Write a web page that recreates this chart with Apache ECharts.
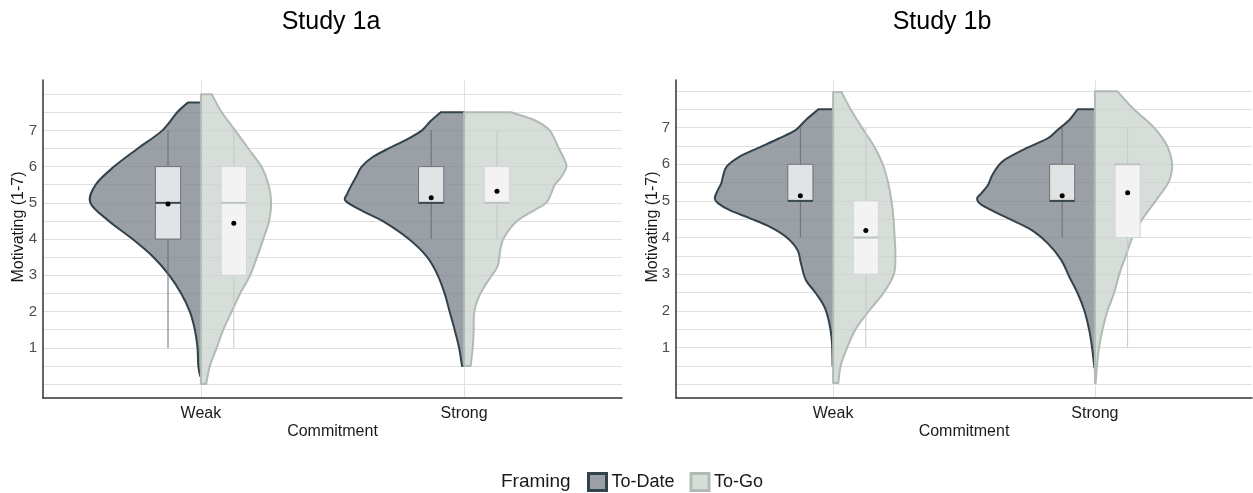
<!DOCTYPE html>
<html>
<head>
<meta charset="utf-8">
<script src="https://cdn.jsdelivr.net/npm/echarts@6/dist/echarts.min.js"></script>
<style>
  html, body { margin: 0; padding: 0; background: #ffffff; }
  #chart { width: 1253px; height: 493px; }
</style>
</head>
<body>
<div id="chart"></div>
<script>
// ---- data ----------------------------------------------------------------
const commitment = ['Weak', 'Strong'];
const framing = ['To-Date', 'To-Go'];
const studyTitles = ['Study 1a', 'Study 1b'];
const ratingTicks = [1, 2, 3, 4, 5, 6, 7];
const gridBreaks = [0, 0.5, 1, 1.5, 2, 2.5, 3, 3.5, 4, 4.5, 5, 5.5, 6, 6.5, 7, 7.5, 8];

// Density outlines, bottom to top: [rating, half-width in category units]
const s1aWeakToDate = [[0.22, 0.003], [0.5, 0.01], [1, 0.013], [1.5, 0.023], [2, 0.042], [2.5, 0.075], [3, 0.12], [3.5, 0.18], [4, 0.26], [4.5, 0.35], [5, 0.42], [5.5, 0.40], [6, 0.33], [6.5, 0.24], [7, 0.146], [7.5, 0.09], [7.77, 0.049]];
const s1aWeakToGo = [[0, 0.02], [0.5, 0.034], [1, 0.06], [1.5, 0.085], [2, 0.117], [2.5, 0.149], [3, 0.187], [3.5, 0.213], [4, 0.237], [4.5, 0.259], [5, 0.267], [5.5, 0.257], [6, 0.23], [6.5, 0.18], [7, 0.13], [7.5, 0.079], [8, 0.041]];
const s1aStrongToDate = [[0.5, 0.008], [1, 0.019], [1.5, 0.036], [2, 0.055], [2.5, 0.074], [3, 0.10], [3.5, 0.14], [4, 0.21], [4.5, 0.31], [4.75, 0.38], [5.05, 0.45], [5.25, 0.444], [5.5, 0.427], [5.75, 0.408], [6, 0.389], [6.25, 0.35], [6.5, 0.287], [6.75, 0.217], [7, 0.16], [7.25, 0.128], [7.5, 0.089]];
const s1aStrongToGo = [[0.5, 0.025], [0.94, 0.032], [1.4, 0.036], [1.95, 0.038], [2.32, 0.051], [2.68, 0.076], [2.96, 0.102], [3.24, 0.127], [3.51, 0.134], [3.79, 0.14], [4.06, 0.153], [4.48, 0.198], [4.8, 0.268], [5, 0.312], [5.26, 0.331], [5.49, 0.344], [5.72, 0.37], [6, 0.389], [6.18, 0.382], [6.55, 0.357], [7, 0.325], [7.28, 0.268], [7.5, 0.178]];
const s1bWeakToDate = [[0.5, 0.002], [1.29, 0.006], [2.02, 0.028], [2.48, 0.066], [2.84, 0.104], [3.3, 0.123], [3.66, 0.136], [4.02, 0.18], [4.3, 0.243], [4.53, 0.319], [4.75, 0.395], [4.94, 0.44], [5.07, 0.452], [5.3, 0.44], [5.48, 0.427], [5.66, 0.421], [5.94, 0.406], [6.21, 0.357], [6.44, 0.288], [6.71, 0.205], [6.94, 0.142], [7.21, 0.104], [7.5, 0.056]];
const s1bWeakToGo = [[0.03, 0.02], [0.5, 0.029], [1, 0.054], [1.5, 0.086], [2, 0.137], [2.5, 0.194], [3, 0.232], [3.5, 0.238], [4, 0.235], [4.5, 0.231], [5, 0.223], [5.5, 0.21], [6, 0.19], [6.5, 0.156], [7, 0.11], [7.5, 0.067], [7.97, 0.032]];
const s1bStrongToDate = [[0.45, 0.002], [1, 0.011], [1.48, 0.022], [2.02, 0.041], [2.48, 0.066], [2.93, 0.098], [3.39, 0.129], [3.84, 0.18], [4.21, 0.243], [4.57, 0.345], [4.89, 0.433], [5.07, 0.45], [5.21, 0.433], [5.44, 0.408], [5.66, 0.395], [5.89, 0.376], [6.12, 0.345], [6.44, 0.262], [6.71, 0.18], [6.94, 0.142], [7.21, 0.098], [7.5, 0.066]];
const s1bStrongToGo = [[0.03, 0.003], [0.5, 0.008], [1, 0.016], [1.48, 0.029], [2, 0.048], [2.48, 0.073], [3, 0.093], [3.5, 0.118], [4, 0.143], [4.5, 0.181], [5, 0.232], [5.44, 0.276], [5.66, 0.289], [6, 0.295], [6.5, 0.276], [7, 0.226], [7.5, 0.149], [7.99, 0.086]];

// Box summaries per commitment level: [lower whisker, Q1, median, Q3, upper whisker]
const s1aToDateBox = [[1, 4, 5, 6, 7], [4, 5, 5, 6, 7]];
const s1aToGoBox = [[1, 3, 5, 6, 7], [4, 5, 5, 6, 7]];
const s1bToDateBox = [[4, 5, 5, 6, 7], [4, 5, 5, 6, 7]];
const s1bToGoBox = [[1, 3, 4, 5, 7], [1, 4, 6, 6, 7]];

// Group means per commitment level
const s1aToDateMean = [4.97, 5.14];
const s1aToGoMean = [4.44, 5.32];
const s1bToDateMean = [5.14, 5.14];
const s1bToGoMean = [4.19, 5.22];

// ---- layout & style --------------------------------------------------------
const FONT = '"Liberation Sans", Arial, Helvetica, sans-serif';
const GRID_COLOR = '#e0e0e0';
const BOX_OFFSET = 0.125;
const BOX_HALF = 0.048;

const panels = [
  { grid: { left: 43, right: 631, top: 80, bottom: 95 }, yMin: -0.386, yMax: 8.39,
    violins: [[s1aWeakToDate, s1aStrongToDate], [s1aWeakToGo, s1aStrongToGo]],
    boxes: [s1aToDateBox, s1aToGoBox], means: [s1aToDateMean, s1aToGoMean],
    titleX: 331, yNameX: 18.5 },
  { grid: { left: 676, right: 1, top: 80, bottom: 95 }, yMin: -0.38, yMax: 8.3,
    violins: [[s1bWeakToDate, s1bStrongToDate], [s1bWeakToGo, s1bStrongToGo]],
    boxes: [s1bToDateBox, s1bToGoBox], means: [s1bToDateMean, s1bToGoMean],
    titleX: 942, yNameX: 653 }
];

const violinStyle = [
  { fill: 'rgba(120,128,136,0.75)', stroke: '#33434b' },
  { fill: 'rgba(202,210,204,0.75)', stroke: '#b1bbb4' }
];
const boxStyle = [
  { fill: '#e2e3e5', border: '#6c7277', median: '#3a4950', whisker: '#687075' },
  { fill: '#f2f3f2', border: '#d0d6d2', median: '#bcc5bf', whisker: '#c3cbc6' }
];

// Cubic Bezier segments through pixel points (Catmull-Rom)
function smoothSegments(pts) {
  let d = '';
  for (let i = 0; i < pts.length - 1; i++) {
    const p0 = pts[i - 1] || pts[i], p1 = pts[i], p2 = pts[i + 1], p3 = pts[i + 2] || pts[i + 1];
    const c1x = p1[0] + (p2[0] - p0[0]) / 6, c1y = p1[1] + (p2[1] - p0[1]) / 6;
    const c2x = p2[0] - (p3[0] - p1[0]) / 6, c2y = p2[1] - (p3[1] - p1[1]) / 6;
    d += ' C' + c1x + ' ' + c1y + ' ' + c2x + ' ' + c2y + ' ' + p2[0] + ' ' + p2[1];
  }
  return d;
}

// Half violin: side -1 draws to the left of the category, +1 to the right
function violinRenderer(profiles, side, closed, st) {
  return function (params, api) {
    const prof = profiles[params.dataIndex];
    const cx = api.value(0);
    const pts = prof.map(function (p) { return api.coord([cx + side * p[1], p[0]]); });
    const b = api.coord([cx, prof[0][0]]);
    const t = api.coord([cx, prof[prof.length - 1][0]]);
    let d = 'M' + b[0] + ' ' + b[1] + ' L' + pts[0][0] + ' ' + pts[0][1] +
      smoothSegments(pts) + ' L' + t[0] + ' ' + t[1];
    if (closed) d += ' Z';
    return {
      type: 'path',
      shape: { pathData: d },
      style: { fill: st.fill, stroke: st.stroke, lineWidth: 2, lineJoin: 'round' }
    };
  };
}

function boxRenderer(offset, st) {
  return function (params, api) {
    const x = api.value(0) + offset;
    const lo = api.value(1), q1 = api.value(2), med = api.value(3), q3 = api.value(4), hi = api.value(5), mean = api.value(6);
    const a = api.coord([x - BOX_HALF, q3]), b = api.coord([x + BOX_HALF, q1]);
    const m1 = api.coord([x - BOX_HALF, med]), m2 = api.coord([x + BOX_HALF, med]);
    const w1 = api.coord([x, lo]), w2 = api.coord([x, q1]), w3 = api.coord([x, q3]), w4 = api.coord([x, hi]);
    const mp = api.coord([x, mean]);
    return {
      type: 'group',
      children: [
        { type: 'line', shape: { x1: w1[0], y1: w1[1], x2: w2[0], y2: w2[1] }, style: { stroke: st.whisker, lineWidth: 1 } },
        { type: 'line', shape: { x1: w3[0], y1: w3[1], x2: w4[0], y2: w4[1] }, style: { stroke: st.whisker, lineWidth: 1 } },
        { type: 'rect', shape: { x: a[0], y: a[1], width: b[0] - a[0], height: b[1] - a[1] }, style: { fill: st.fill, stroke: st.border, lineWidth: 1 } },
        { type: 'line', shape: { x1: m1[0], y1: m1[1], x2: m2[0], y2: m2[1] }, style: { stroke: st.median, lineWidth: 2 } },
        { type: 'circle', shape: { cx: mp[0], cy: mp[1], r: 2.5 }, style: { fill: '#000000' } }
      ]
    };
  };
}

// ---- option ----------------------------------------------------------------
const grids = [], xAxes = [], yAxes = [], series = [], graphics = [];

panels.forEach(function (panel, p) {
  grids.push(panel.grid);
  xAxes.push({
    type: 'value', gridIndex: p, min: 0.4, max: 2.6,
    axisLine: { show: true, onZero: false, lineStyle: { color: '#333333', width: 1.5 } },
    axisTick: { show: false, customValues: [1, 2] },
    axisLabel: {
      customValues: [1, 2], margin: 8, color: '#1a1a1a', fontSize: 16, fontFamily: FONT,
      formatter: function (v) { return commitment[Math.round(v) - 1]; }
    },
    splitLine: { show: true, lineStyle: { color: GRID_COLOR, width: 1 } },
    name: 'Commitment', nameLocation: 'middle', nameGap: 26, nameMoveOverlap: false,
    nameTextStyle: { color: '#1a1a1a', fontSize: 16, fontFamily: FONT }
  });
  yAxes.push({
    type: 'value', gridIndex: p, min: panel.yMin, max: panel.yMax,
    axisLine: { show: true, onZero: false, lineStyle: { color: '#333333', width: 1.5 } },
    axisTick: { show: false, customValues: gridBreaks },
    axisLabel: { customValues: ratingTicks, margin: 6, color: '#4d4d4d', fontSize: 15, fontFamily: FONT },
    splitLine: { show: true, lineStyle: { color: GRID_COLOR, width: 1 } }
  });

  // half violins (To-Date left, To-Go right)
  framing.forEach(function (name, f) {
    const profiles = panel.violins[f];
    series.push({
      type: 'custom', name: name, xAxisIndex: p, yAxisIndex: p, silent: true,
      renderItem: violinRenderer(profiles, f === 0 ? -1 : 1, f === 1, violinStyle[f]),
      encode: { x: 0, y: 1 },
      data: profiles.map(function (prof, i) { return [i + 1, prof[prof.length - 1][0]]; })
    });
  });

  // boxes, whiskers and means
  framing.forEach(function (name, f) {
    const stats = panel.boxes[f], means = panel.means[f];
    series.push({
      type: 'custom', name: name, xAxisIndex: p, yAxisIndex: p, silent: true,
      renderItem: boxRenderer(f === 0 ? -BOX_OFFSET : BOX_OFFSET, boxStyle[f]),
      encode: { x: 0, y: [1, 5] },
      data: stats.map(function (s, i) { return [i + 1].concat(s, [means[i]]); })
    });
  });

  graphics.push({
    type: 'text', x: panel.titleX, y: 22, silent: true,
    style: { text: studyTitles[p], fill: '#000000', font: '25px ' + FONT, align: 'center', verticalAlign: 'middle' }
  });
  graphics.push({
    type: 'text', x: panel.yNameX, y: 227, rotation: Math.PI / 2, silent: true,
    style: { text: 'Motivating (1-7)', fill: '#1a1a1a', font: '16px ' + FONT, align: 'center', verticalAlign: 'middle' }
  });
});

graphics.push({
  type: 'text', x: 501, y: 481.5, silent: true,
  style: { text: 'Framing', fill: '#1a1a1a', font: '19px ' + FONT, align: 'left', verticalAlign: 'middle' }
});

const option = {
  backgroundColor: '#ffffff',
  animation: false,
  grid: grids,
  xAxis: xAxes,
  yAxis: yAxes,
  series: series,
  graphic: graphics,
  legend: {
    left: 582, top: 467, icon: 'rect', itemWidth: 18, itemHeight: 17, itemGap: 15,
    selectedMode: false,
    textStyle: { color: '#1a1a1a', fontSize: 18, fontFamily: FONT },
    data: [
      { name: 'To-Date', itemStyle: { color: '#9aa0a6', borderColor: '#33434b', borderWidth: 3 } },
      { name: 'To-Go', itemStyle: { color: '#d6dcd8', borderColor: '#b1bbb4', borderWidth: 3 } }
    ]
  }
};

const chart = echarts.init(document.getElementById('chart'), null, { renderer: 'canvas' });
chart.setOption(option);
</script>
</body>
</html>
